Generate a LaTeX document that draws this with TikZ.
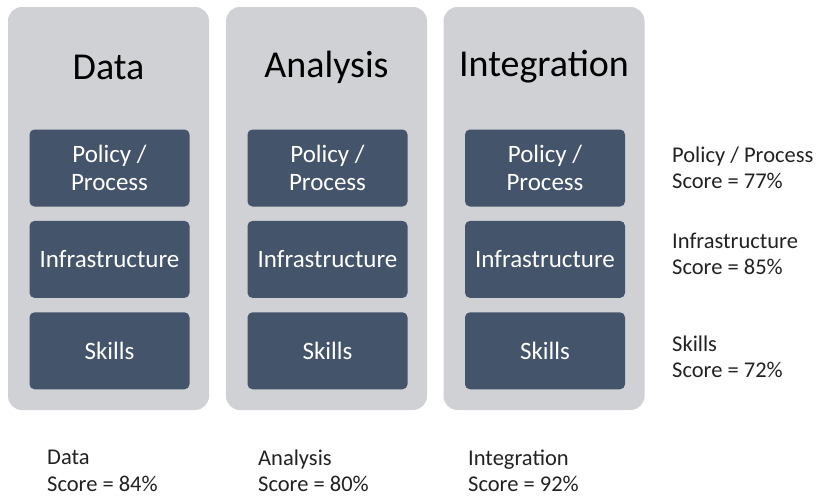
\documentclass[tikz,border=0pt]{standalone}
\usepackage{fontspec}
\setmainfont{Carlito}
\usetikzlibrary{positioning}

\definecolor{panelgray}{HTML}{D0D1D5}
\definecolor{slate}{HTML}{44546A}
\definecolor{ink}{HTML}{222222}

\begin{document}
\begin{tikzpicture}[
  x=1pt, y=-1pt,
  panel/.style = {fill=panelgray, rounded corners=14pt, minimum width=201pt, minimum height=403pt, inner sep=0pt},
  block/.style = {fill=slate, rounded corners=5pt, minimum width=160pt, minimum height=77pt, inner sep=0pt,
                  text=white, align=center, font=\fontsize{25}{28}\selectfont},
  heading/.style = {font=\fontsize{38}{44}\selectfont, text=black},
  score/.style = {anchor=west, inner sep=0pt, align=left, text=ink, font=\fontsize{22.5}{26.5}\selectfont}
]
\useasboundingbox (0,0) rectangle (817,496);

% Three columns, each with its three capability blocks
\foreach \name/\x in {Data/108.5, Analysis/326.5, Integration/544} {
  \node[panel] (\name) at (\x,208.5) {};
  \node[heading] (\name-title) at (\x,67) {\name};
  \node[block] (\name-policy) at (\x+1,168) {Policy /\\Process};
  \node[block, below=14pt of \name-policy] (\name-infra) {Infrastructure};
  \node[block, below=14pt of \name-infra] (\name-skills) {Skills};
}

% Row scores
\node[score] (policy-score) at (672,168) {Policy / Process\\Score = 77\%};
\node[score] (infra-score) at (672,254) {Infrastructure\\Score = 85\%};
\node[score] (skills-score) at (672,357) {Skills\\Score = 72\%};

% Column scores
\node[score] (data-score) at (47,471) {Data\\Score = 84\%};
\node[score] (analysis-score) at (258,471) {Analysis\\Score = 80\%};
\node[score] (integration-score) at (468,471) {Integration\\Score = 92\%};

\end{tikzpicture}
\end{document}
